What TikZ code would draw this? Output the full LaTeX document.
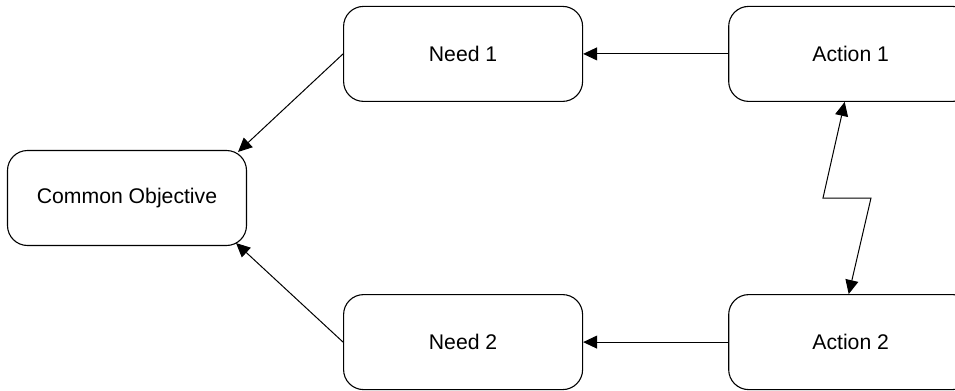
\documentclass[tikz,border=0pt]{standalone}
\usepackage{fontspec}
\setmainfont{Liberation Sans}
\usetikzlibrary{arrows.meta,positioning}

\begin{document}
\begin{tikzpicture}[
    x=0.5pt, y=-0.5pt,
    every node/.style={draw, line width=0.55pt, rounded corners=10pt, minimum width=119.5pt,
        minimum height=47.5pt, inner sep=0pt, text centered, font=\fontsize{10.6}{12}\selectfont},
    link/.style={line width=0.5pt, -{Triangle[length=7pt,width=6.5pt]}},
    twoway/.style={line width=0.5pt, {Triangle[length=7pt,width=6.5pt]}-{Triangle[length=7pt,width=6.5pt]}}
]
\useasboundingbox (0,0) rectangle (955,391);

% Objective
\node (objective) at (127,198) {Common Objective};

% Needs
\node[above right=24pt and 48pt of objective] (need1) {Need 1};
\node[below right=24pt and 48pt of objective] (need2) {Need 2};

% Actions
\node[right=72.5pt of need1, minimum width=122pt] (action1) {Action 1};
\node[right=72.5pt of need2, minimum width=122pt] (action2) {Action 2};

% Bend of the link between the actions
\coordinate (bend1) at (823,198);
\coordinate (bend2) at (871,198);

% Connections
\draw[link] (need1.west) -- ([xshift=-4.5pt,yshift=-1pt]objective.north east);
\draw[link] (need2.west) -- ([xshift=-5.5pt,yshift=1.5pt]objective.south east);
\draw[link] (action1) -- (need1);
\draw[link] (action2) -- (need2);
\draw[twoway] ([xshift=-3pt]action1.south) -- (bend1) -- (bend2) -- ([xshift=-1pt]action2.north);

\end{tikzpicture}
\end{document}
